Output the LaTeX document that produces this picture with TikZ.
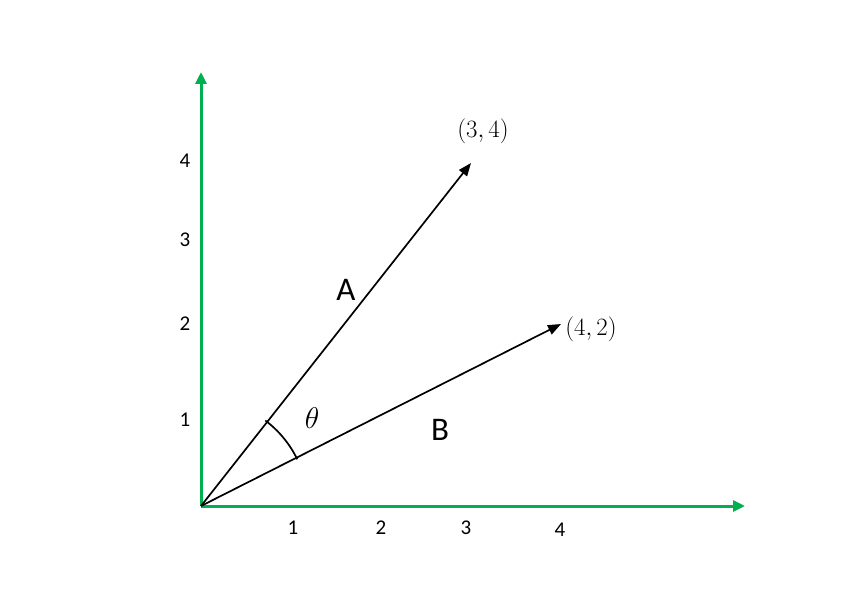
\documentclass[tikz,border=0pt]{standalone}
\usepackage{fontspec}
\setmainfont{Carlito}
\usetikzlibrary{arrows.meta}
\definecolor{axgreen}{HTML}{00B050}
\begin{document}
\begin{tikzpicture}[x=1pt,y=-1pt,
  axis/.style={draw=axgreen,line width=3pt,-{Triangle[length=12pt,width=11pt]}},
  vec/.style={draw=black,line width=1.7pt,-{Triangle[length=13pt,width=10pt]}},
  tick/.style={font=\fontsize{21}{21}\selectfont,inner sep=0pt},
  big/.style={font=\fontsize{33}{33}\selectfont,inner sep=0pt},
  coordlbl/.style={font=\fontsize{24.88}{25}\selectfont,inner sep=0pt},
  anglbl/.style={font=\fontsize{24.88}{25}\selectfont,inner sep=0pt,scale=1.2}]
\useasboundingbox (0,0) rectangle (842,607);
\coordinate (O) at (201,506);
\coordinate (Y) at (201,72);
\coordinate (X) at (745,506);
\coordinate (A) at (471,163);
\coordinate (B) at (561,324);
\draw[axis] (O) -- (Y);
\draw[axis] (O) -- (X);
\draw[vec] (O) -- (A);
\draw[vec] (O) -- (B);
% angle arc
\draw[line width=1.7pt] (O) ++({-atan2(87,66)-0.2}:107) arc[start angle={-atan2(87,66)-0.2}, end angle={-atan2(46,94)+0.2}, radius=107];
\node[coordlbl] (lA) at (483,131) {$(3,4)$};
\node[coordlbl] (lB) at (591,329) {$(4,2)$};
\node[big] (nA) at (346,290) {A};
\node[big] (nB) at (440,430) {B};
\node[anglbl] (th) at (312,418) {$\theta$};
\node[tick] (y4) at (185,161) {4};
\node[tick] (y3) at (185,240) {3};
\node[tick] (y2) at (185,324) {2};
\node[tick] (y1) at (185,420) {1};
\node[tick] (x1) at (293,528) {1};
\node[tick] (x2) at (381,528) {2};
\node[tick] (x3) at (466,528) {3};
\node[tick] (x4) at (560,530) {4};
\end{tikzpicture}
\end{document}
